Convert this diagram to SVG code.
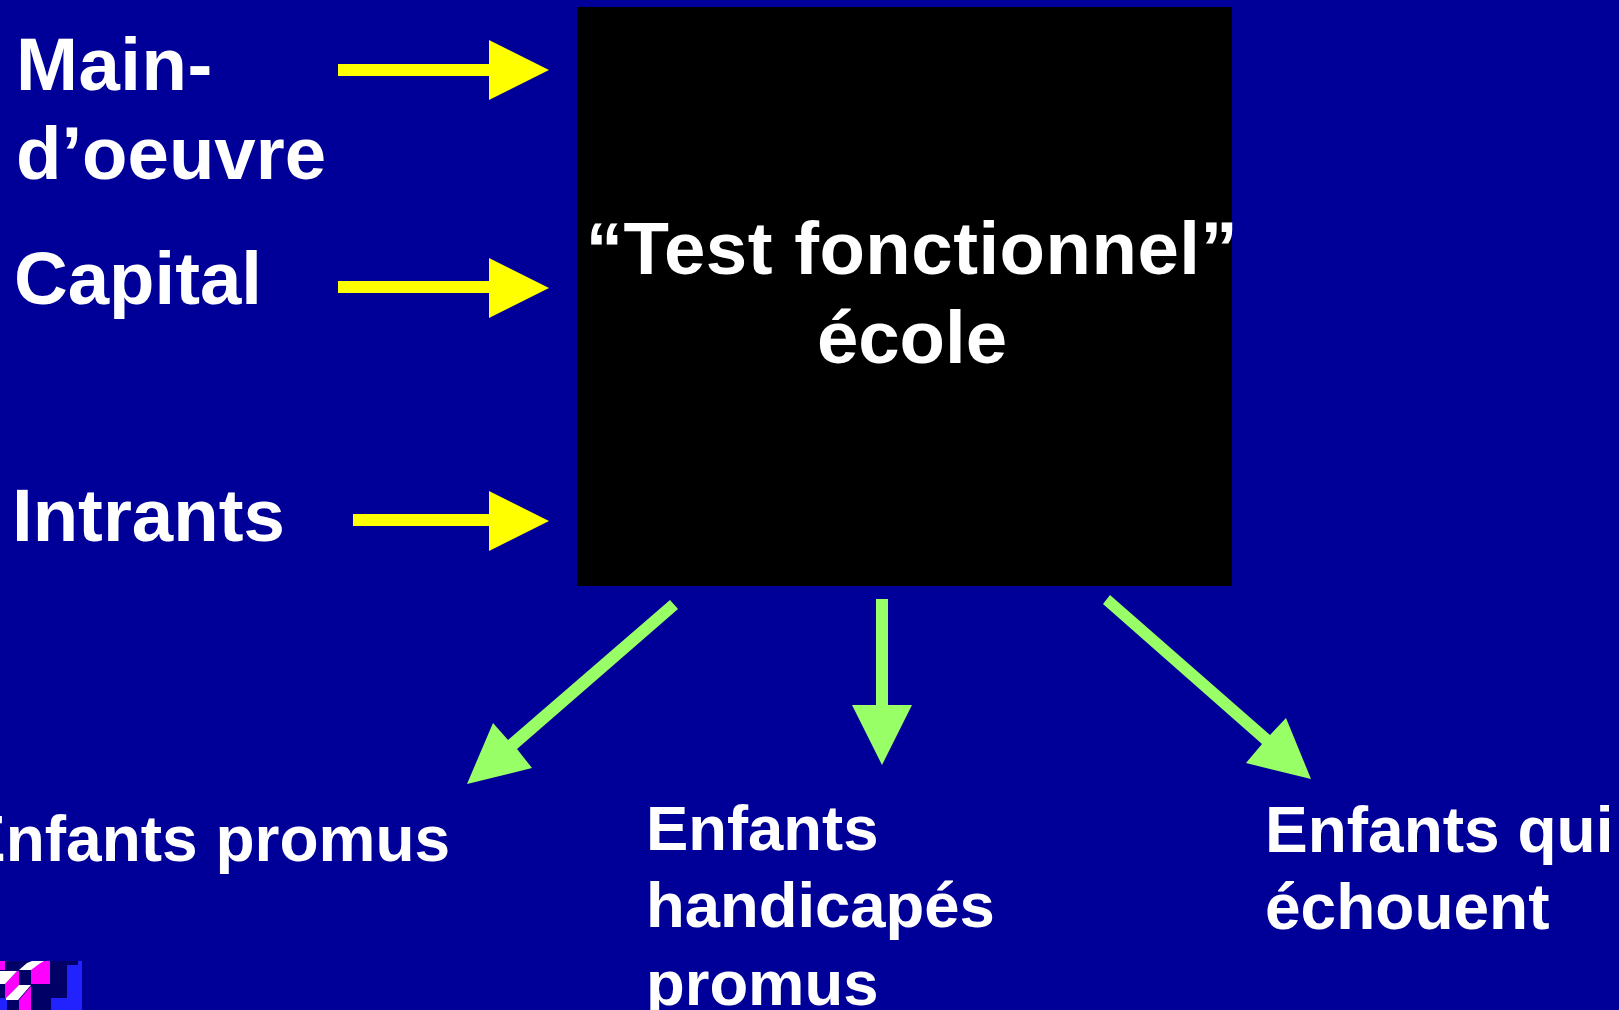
<svg xmlns="http://www.w3.org/2000/svg" width="1619" height="1010" viewBox="0 0 1619 1010">
<style>
text{font-family:"Liberation Sans",Arial,sans-serif;font-weight:700;fill:#fff}
.a{font-size:74.4px}.c{font-size:64px}.d{font-size:63.4px}
.y{fill:#ff0}.g{fill:#9f6}
</style>
<rect width="1619" height="1010" fill="#009"/>
<g id="logo">
<rect x="0" y="961" width="82" height="49" fill="#006"/>
<path d="M67 998V965H78V961H82V1010H51V998Z M0 998H7V1010H0Z" fill="#22f"/>
<path d="M0 961H5V970H0Z M31 970L39 961H50V984H31Z M5 984L17 971H19V985L6 998H5Z M19 1000L31 986V1010H19Z" fill="#f0f"/>
<path d="M19 970L27 963L32 961H44L39 964L31 970Z M0 971H17L5 984H0Z M6 998L19 985H31L18 1000H6Z" fill="#fff"/>
</g>
<g id="source-labels">
<text id="main-oeuvre-1" class="a" x="16" y="90" style="letter-spacing:.5px">Main-</text>
<text id="main-oeuvre-2" class="a" x="16" y="179">d’oeuvre</text>
<text id="capital" class="a" x="14" y="304">Capital</text>
<text id="intrants" class="a" x="12" y="541">Intrants</text>
</g>
<g id="ecole">
<rect x="577" y="7" width="655" height="579" fill="#000"/>
<text class="a" x="912" y="274" text-anchor="middle" style="letter-spacing:.5px">“Test fonctionnel”</text>
<text class="a" x="912" y="363" text-anchor="middle">école</text>
</g>
<g id="connectors">
<path class="y" d="M338 64H489V40L549 70L489 100V76H338Z"/>
<path class="y" d="M338 281H489V258L549 288L489 318V293H338Z"/>
<path class="y" d="M353 514H489V491L549 521L489 551V526H353Z"/>
<path class="g" d="M670 600L678 609L517 749L532 768L467 784L493 723L508 740Z"/>
<path class="g" d="M876 599H888V705H912L882 765L852 705H876Z"/>
<path class="g" d="M1110 595L1270 735L1286 718L1311 779L1246 763L1262 744L1103 604Z"/>
</g>
<g id="outcome-promus"><text class="c" x="-37" y="861">Enfants promus</text></g>
<g id="outcome-handicapes">
<text class="d" x="646" y="850">Enfants</text>
<text class="d" x="646" y="927">handicapés</text>
<text class="d" x="646" y="1005">promus</text>
</g>
<g id="outcome-echouent">
<text class="c" x="1265" y="852">Enfants qui</text>
<text class="c" x="1265" y="929">échouent</text>
</g>
</svg>
